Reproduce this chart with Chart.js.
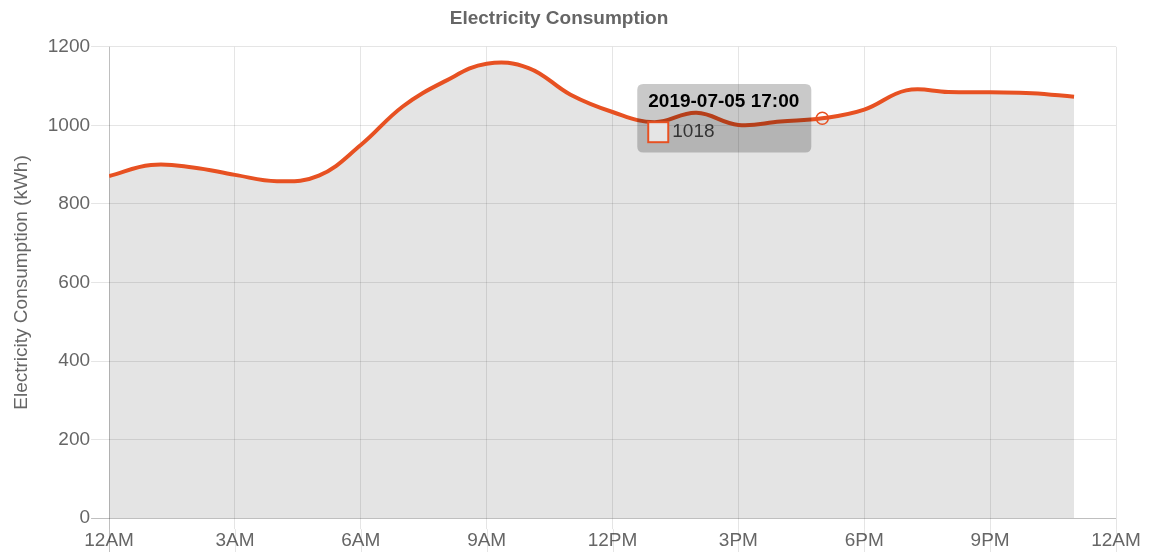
<!DOCTYPE html>
<html>
<head>
<meta charset="utf-8">
<script src="https://cdn.jsdelivr.net/npm/chart.js@4.4.1/dist/chart.umd.min.js"></script>
<style>
  html, body { margin: 0; padding: 0; background: #fff; }
  #wrap { width: 1149px; height: 552px; }
</style>
</head>
<body>
<div id="wrap"><canvas id="c" width="1149" height="552"></canvas></div>
<script>
const hours = [0, 1, 2, 3, 4, 5, 6, 7, 8, 9, 10, 11, 12, 13, 14, 15, 16, 17, 18, 19, 20, 21, 22, 23];
const consumption = [871, 899, 893, 874, 858, 872, 950, 1048, 1112, 1157, 1146, 1078, 1034, 1008, 1032, 1001, 1010, 1018, 1040, 1089, 1085, 1084, 1082, 1073];
const dateLabel = '2019-07-05';
const xTickHours = [0, 3, 6, 9, 12, 15, 18, 21, 24];
const yTicks = [0, 200, 400, 600, 800, 1000, 1200];
const activeIndex = 17;

function hourLabel(h) {
  const hh = ((h % 24) + 24) % 24;
  const suffix = hh < 12 ? 'AM' : 'PM';
  const h12 = hh % 12 === 0 ? 12 : hh % 12;
  return h12 + suffix;
}
function pad2(n) { return (n < 10 ? '0' : '') + n; }

const points = hours.map((h, i) => ({ x: h, y: consumption[i] }));
const FONT = "'Liberation Sans', Arial, Helvetica, sans-serif";
const LINE = 'rgb(231, 81, 34)';

// extends the x grid lines down through the tick labels, as in the reference
const gridExtend = {
  id: 'gridExtend',
  afterDraw(chart) {
    const xs = chart.scales.x;
    const c = chart.ctx;
    c.save();
    c.lineWidth = 1;
    xs.ticks.forEach(t => {
      const px = Math.round(xs.getPixelForValue(t.value)) + 0.5;
      c.strokeStyle = t.value === 0 ? 'rgba(0,0,0,0.25)' : 'rgba(0,0,0,0.1)';
      c.beginPath();
      c.moveTo(px, xs.top + 11);
      c.lineTo(px, chart.height);
      c.stroke();
    });
    c.restore();
  }
};

const ctx = document.getElementById('c').getContext('2d');
const chart = new Chart(ctx, {
  type: 'line',
  data: {
    datasets: [{
      label: 'Electricity Consumption',
      data: points,
      borderColor: LINE,
      backgroundColor: 'rgba(0, 0, 0, 0.105)',
      borderWidth: 4,
      fill: 'origin',
      tension: 0.4,
      pointRadius: 0,
      pointHoverRadius: 6,
      pointHoverBorderWidth: 1.5,
      pointHoverBorderColor: LINE,
      pointHoverBackgroundColor: 'rgba(0,0,0,0)',
      pointHitRadius: 5
    }]
  },
  plugins: [gridExtend],
  options: {
    responsive: false,
    animation: false,
    layout: { padding: { left: 2, right: 33, top: 0, bottom: 0 } },
    plugins: {
      legend: { display: false },
      title: {
        display: true,
        text: 'Electricity Consumption',
        color: '#666',
        font: { family: FONT, size: 19, weight: 'bold' },
        padding: { top: 7, bottom: 17 }
      },
      tooltip: {
        enabled: true,
        backgroundColor: 'rgba(0, 0, 0, 0.21)',
        titleColor: '#000',
        bodyColor: '#333',
        titleFont: { family: FONT, size: 19, weight: 'bold' },
        bodyFont: { family: FONT, size: 19 },
        padding: { top: 6, bottom: 9, left: 11, right: 12 },
        titleMarginBottom: 8,
        cornerRadius: 6,
        caretSize: 0,
        caretPadding: 11,
        xAlign: 'right',
        yAlign: 'center',
        boxWidth: 20,
        boxHeight: 20,
        boxPadding: 2,
        displayColors: true,
        callbacks: {
          title: (items) => dateLabel + ' ' + pad2(items[0].parsed.x) + ':00',
          label: (item) => String(item.parsed.y),
          labelColor: () => ({
            borderColor: LINE,
            backgroundColor: 'rgba(0,0,0,0.1)',
            borderWidth: 2,
            borderRadius: 0
          })
        }
      }
    },
    scales: {
      x: {
        type: 'linear',
        min: 0,
        max: 24,
        afterBuildTicks: (axis) => { axis.ticks = xTickHours.map(v => ({ value: v })); },
        ticks: {
          color: '#666',
          font: { family: FONT, size: 19 },
          padding: 0,
          maxRotation: 0,
          autoSkip: false,
          callback: (v) => hourLabel(v)
        },
        grid: {
          color: (c) => (c.tick && c.tick.value === 0 ? 'rgba(0,0,0,0.25)' : 'rgba(0,0,0,0.1)'),
          lineWidth: 1,
          tickLength: 11
        },
        border: { display: false }
      },
      y: {
        min: 0,
        max: 1200,
        afterBuildTicks: (axis) => { axis.ticks = yTicks.map(v => ({ value: v })); },
        title: {
          display: true,
          text: 'Electricity Consumption (kWh)',
          color: '#666',
          font: { family: FONT, size: 19 },
          padding: { top: 8, bottom: 14 }
        },
        ticks: {
          color: '#666',
          font: { family: FONT, size: 19 },
          padding: 1,
          callback: (v) => String(v)
        },
        grid: {
          color: (c) => (c.tick && c.tick.value === 0 ? 'rgba(0,0,0,0.25)' : 'rgba(0,0,0,0.1)'),
          lineWidth: 1,
          tickLength: 18
        },
        border: { display: false }
      }
    }
  }
});

const meta = chart.getDatasetMeta(0);
const el = meta.data[activeIndex];
chart.setActiveElements([{ datasetIndex: 0, index: activeIndex }]);
chart.tooltip.setActiveElements([{ datasetIndex: 0, index: activeIndex }], { x: el.x, y: el.y });
chart.update('none');
</script>
</body>
</html>
